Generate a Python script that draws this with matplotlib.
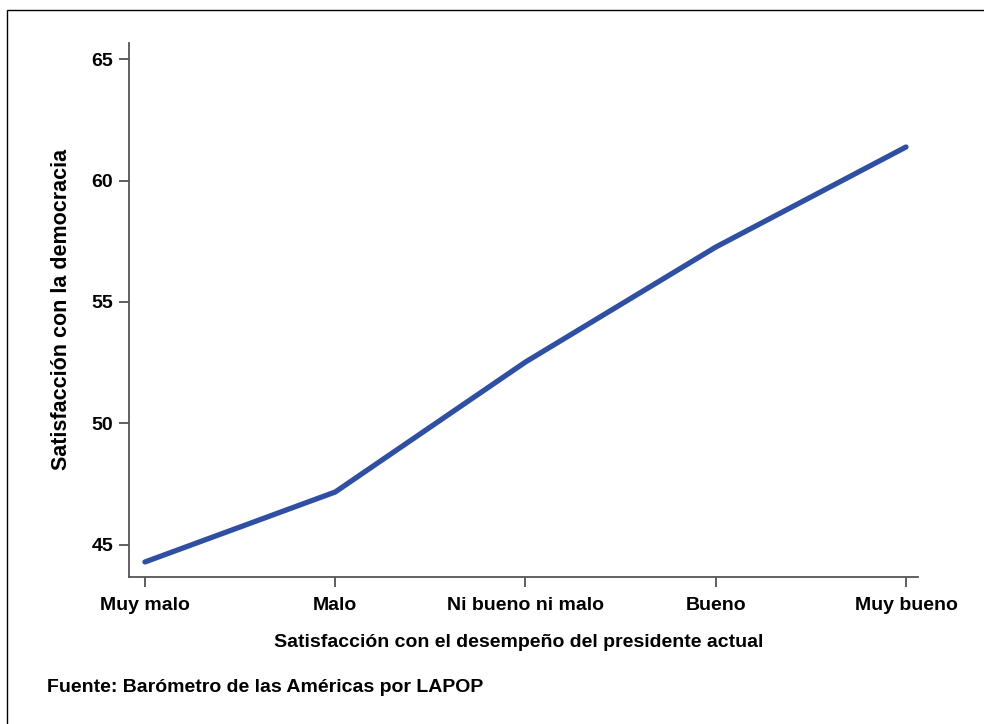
import matplotlib.pyplot as plt
from matplotlib.patches import Rectangle

# data
categories = ['Muy malo', 'Malo', 'Ni bueno ni malo', 'Bueno', 'Muy bueno']
satisfaction = [44.3, 47.18, 52.53, 57.26, 61.38]
yticks = [45, 50, 55, 60, 65]

plt.rcParams['font.family'] = ['Liberation Sans', 'DejaVu Sans']
plt.rcParams['font.weight'] = 'bold'

fig = plt.figure(figsize=(9.84, 7.24), dpi=100)
ax = fig.add_axes([0.1311, 0.2030, 0.8018, 0.7376])

x = list(range(len(categories)))
ax.plot(x, satisfaction, color='#2f4fa2', linewidth=3.8, solid_capstyle='round',
        solid_joinstyle='round')

ax.set_xlim(-0.084, 4.063)
ax.set_ylim(43.68, 65.66)
ax.set_xticks(x)
ax.set_xticklabels(categories, fontsize=14, fontweight='bold')
ax.set_yticks(yticks)
ax.set_yticklabels([str(v) for v in yticks], fontsize=14, fontweight='bold')

for side in ['top', 'right']:
    ax.spines[side].set_visible(False)
for side in ['left', 'bottom']:
    ax.spines[side].set_color('#555555')
    ax.spines[side].set_linewidth(1.3)
ax.tick_params(axis='both', length=7.5, width=1.1, color='#333333', pad=4)
ax.tick_params(axis='x', pad=7)

fig.text(0.063, 0.572, 'Satisfacción con la democracia', rotation=90,
         ha='center', va='center', fontsize=15.5, fontweight='bold')
fig.text(0.527, 0.112, 'Satisfacción con el desempeño del presidente actual',
         ha='center', va='center', fontsize=14, fontweight='bold')
fig.text(0.048, 0.050, 'Fuente: Barómetro de las Américas por LAPOP',
         ha='left', va='center', fontsize=14, fontweight='bold')

# outer frame
fig.patches.append(Rectangle((7 / 984, -0.05), 1.1, (724 - 10) / 724 + 0.05,
                             transform=fig.transFigure, fill=False,
                             edgecolor='black', linewidth=1.0))

fig.savefig('out.png', dpi=100)
